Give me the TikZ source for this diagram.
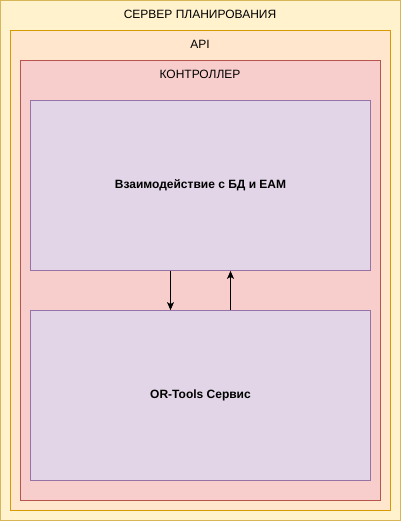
\documentclass[tikz,border=0pt]{standalone}
\usepackage{fontspec}
\setmainfont{Liberation Sans}
\usetikzlibrary{arrows.meta}
\definecolor{srvfill}{HTML}{FFF2CC}\definecolor{srvline}{HTML}{D6B656}
\definecolor{apifill}{HTML}{FFE6CC}\definecolor{apiline}{HTML}{D79B00}
\definecolor{ctlfill}{HTML}{F8CECC}\definecolor{ctlline}{HTML}{B85450}
\definecolor{boxfill}{HTML}{E1D5E7}\definecolor{boxline}{HTML}{9673A6}
\tikzset{
  frame/.style={draw, line width=0.8pt},
  ttl/.style={font=\fontsize{12}{14}\selectfont, anchor=center},
  inner/.style={draw=boxline, fill=boxfill, line width=0.8pt},
  lbl/.style={font=\fontsize{12}{14}\selectfont\bfseries},
  arr/.style={-{Stealth[length=8pt,width=7pt,inset=2pt]}, line width=0.9pt}
}
\begin{document}
\begin{tikzpicture}[x=1pt,y=-1pt]
\useasboundingbox (0,0) rectangle (401,521);
\draw[frame, draw=srvline, fill=srvfill] (0.5,0.5) rectangle (400.5,520.5);
\node[ttl] (t1) at (200,14) {СЕРВЕР ПЛАНИРОВАНИЯ};
\draw[frame, draw=apiline, fill=apifill] (10.5,30.5) rectangle (390.5,510.5);
\node[ttl] (t2) at (200,44) {API};
\draw[frame, draw=ctlline, fill=ctlfill] (20.5,60.5) rectangle (380.5,500.5);
\node[ttl] (t3) at (200,74) {КОНТРОЛЛЕР};
\node[inner, minimum width=340pt, minimum height=170pt, inner sep=0pt] (db) at (200.5,185.5) {};
\node[lbl] (dbl) at (db.center) {Взаимодействие с БД и ЕАМ};
\node[inner, minimum width=340pt, minimum height=170pt, inner sep=0pt] (or) at (200.5,395.5) {};
\node[lbl] (orl) at (or.center) {OR-Tools Сервис};
\draw[arr] (db.south -| 170.5,0) -- (or.north -| 170.5,0);
\draw[arr] (or.north -| 230.5,0) -- (db.south -| 230.5,0);
\end{tikzpicture}
\end{document}
